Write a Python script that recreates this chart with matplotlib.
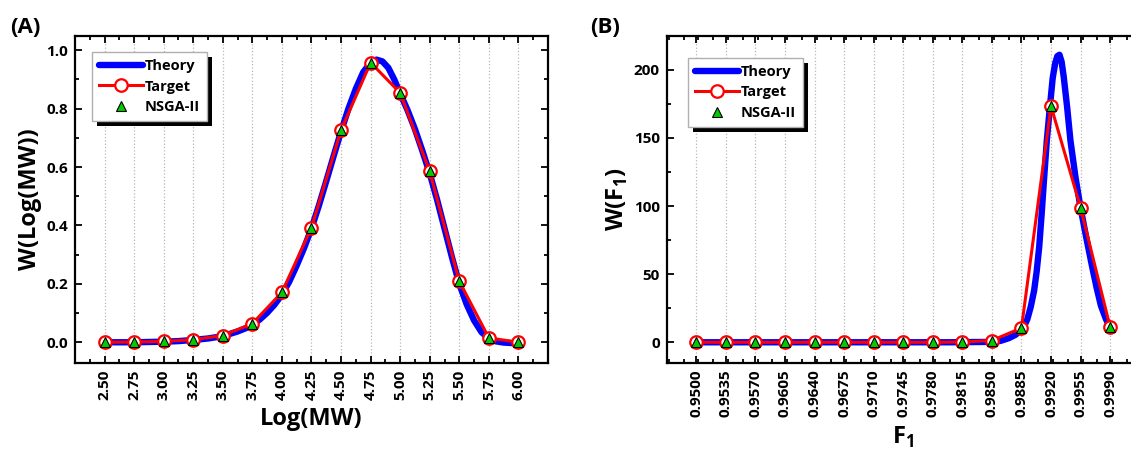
import matplotlib
matplotlib.use("Agg")
import matplotlib.pyplot as plt
from matplotlib.patches import Rectangle
from matplotlib.ticker import MultipleLocator, FormatStrFormatter

plt.rcParams['font.family'] = ['Open Sans', 'DejaVu Sans']
plt.rcParams['font.weight'] = 'bold'

# ---- panel A data: Log(MW) ----
a_x = [2.50, 2.75, 3.00, 3.25, 3.50, 3.75, 4.00, 4.25, 4.50, 4.75, 5.00, 5.25, 5.50, 5.75, 6.00]
a_target = [0.000, 0.001, 0.003, 0.009, 0.023, 0.064, 0.171, 0.393, 0.726, 0.958, 0.854, 0.585, 0.209, 0.015, 0.000]
a_nsga = [0.000, 0.001, 0.003, 0.009, 0.023, 0.064, 0.171, 0.393, 0.726, 0.958, 0.854, 0.585, 0.209, 0.015, 0.000]
a_theory_x = [2.50, 2.625, 2.75, 2.875, 3.00, 3.125, 3.25, 3.375, 3.50, 3.625, 3.6875, 3.75,
              3.8125, 3.875, 3.9375, 4.00, 4.0625, 4.125, 4.1875, 4.25, 4.3125, 4.375, 4.4375,
              4.50, 4.5625, 4.625, 4.6875, 4.75, 4.80, 4.85, 4.90, 4.95, 5.00, 5.0625, 5.125,
              5.1875, 5.25, 5.3125, 5.375, 5.4375, 5.50, 5.5625, 5.625, 5.6875, 5.75, 5.8125,
              5.875, 6.00]
a_theory_y = [0.000, 0.000, 0.000, 0.001, 0.002, 0.004, 0.008, 0.013, 0.021, 0.037, 0.047, 0.060,
              0.078, 0.101, 0.129, 0.163, 0.208, 0.263, 0.323, 0.390, 0.468, 0.552, 0.638,
              0.722, 0.800, 0.868, 0.925, 0.958, 0.968, 0.962, 0.940, 0.900, 0.852, 0.795, 0.730,
              0.656, 0.578, 0.488, 0.390, 0.292, 0.200, 0.130, 0.075, 0.035, 0.012, 0.003,
              -0.001, -0.004]

# ---- panel B data: F1 ----
b_x = [0.9500, 0.9535, 0.9570, 0.9605, 0.9640, 0.9675, 0.9710, 0.9745,
       0.9780, 0.9815, 0.9850, 0.9885, 0.9920, 0.9955, 0.9990]
b_target = [0, 0, 0, 0, 0, 0, 0, 0, 0, 0.2, 1.3, 10.5, 173.3, 98.8, 11.0]
b_nsga = [0, 0, 0, 0, 0, 0, 0, 0, 0, 0.2, 1.3, 10.5, 173.3, 98.8, 11.0]
b_theory_x = [0.9500, 0.9600, 0.9700, 0.9800, 0.9850, 0.9860, 0.9870, 0.9878, 0.9884,
              0.9888, 0.9892, 0.9896, 0.9900, 0.9903, 0.9906, 0.9909, 0.9912, 0.9915,
              0.9919, 0.9922, 0.9925, 0.99275, 0.9930, 0.99325, 0.9935, 0.9939, 0.9943,
              0.9949, 0.9955, 0.9962, 0.99685, 0.9974, 0.9979, 0.9985, 0.9990]
b_theory_y = [0, 0, 0, 0, 0.3, 1.0, 3.0, 5.5, 8.5,
              11.5, 17, 26, 38, 52, 70, 95, 122, 148,
              175, 194, 205, 210, 211, 206, 195, 173, 148,
              121, 98.5, 76, 56, 40, 27, 17, 11]

a_xticks = [2.50, 2.75, 3.00, 3.25, 3.50, 3.75, 4.00, 4.25, 4.50, 4.75, 5.00, 5.25, 5.50, 5.75, 6.00]
b_xticks = b_x

fig = plt.figure(figsize=(11.31, 4.53), dpi=100)
axA = fig.add_axes([0.0663, 0.1993, 0.4182, 0.7219])
axB = fig.add_axes([0.5895, 0.1993, 0.4182, 0.7219])


def draw(ax, tx, ty, x, target, nsga):
    ax.plot(tx, ty, color='#0000ff', lw=4.6, solid_capstyle='round',
            solid_joinstyle='round', zorder=2, label='Theory')
    ax.plot(x, target, color='#ff0000', lw=2.2, marker='o', ms=9, mfc='white',
            mec='#ff0000', mew=1.6, zorder=3, label='Target')
    ax.plot(x, nsga, ls='none', marker='^', ms=7, mfc='#00cc00', mec='black',
            mew=0.8, zorder=4, label='NSGA-II')


def style(ax, xticks, xfmt):
    ax.set_xticks(xticks)
    ax.set_xticklabels([xfmt % v for v in xticks], rotation=90)
    ax.grid(axis='x', ls=':', color='#b8b8b8', lw=0.9)
    ax.set_axisbelow(True)
    for s in ax.spines.values():
        s.set_linewidth(1.6)
    ax.tick_params(which='both', direction='in', top=True, right=True, width=1.3,
                   labelsize=11, pad=5)
    ax.tick_params(which='major', length=5)
    ax.tick_params(which='minor', length=3)


def legend(ax, anchor):
    leg = ax.legend(loc='upper left', bbox_to_anchor=anchor, borderaxespad=0,
                    fancybox=False, framealpha=1, edgecolor='#b0b0b0',
                    handlelength=3.0, handletextpad=0.1, labelspacing=0.45,
                    borderpad=0.5, numpoints=1, prop={'size': 10.5, 'weight': 'bold'})
    leg.get_frame().set_linewidth(1.0)
    fig.canvas.draw()
    bb = leg.get_window_extent()
    inv = ax.transAxes.inverted()
    (x0, y0), (x1, y1) = inv.transform([(bb.x0 + 5, bb.y0 - 5), (bb.x1 + 5, bb.y1 - 5)])
    ax.add_patch(Rectangle((x0, y0), x1 - x0, y1 - y0, transform=ax.transAxes,
                           facecolor='black', edgecolor='none', zorder=4.9, clip_on=False))


draw(axA, a_theory_x, a_theory_y, a_x, a_target, a_nsga)
style(axA, a_xticks, '%.2f')
axA.set_xlim(2.25, 6.25)
axA.set_ylim(-0.07, 1.05)
axA.xaxis.set_minor_locator(MultipleLocator(0.125))
axA.yaxis.set_major_locator(MultipleLocator(0.2))
axA.yaxis.set_minor_locator(MultipleLocator(0.1))
axA.yaxis.set_major_formatter(FormatStrFormatter('%.1f'))
axA.set_xlabel('Log(MW)', fontsize=17, fontweight='bold', labelpad=5)
axA.set_ylabel('W(Log(MW))', fontsize=17, fontweight='bold', labelpad=3)

draw(axB, b_theory_x, b_theory_y, b_x, b_target, b_nsga)
style(axB, b_xticks, '%.4f')
axB.set_xlim(0.9465, 1.0025)
axB.set_ylim(-15, 225)
axB.xaxis.set_minor_locator(MultipleLocator(0.00175))
axB.yaxis.set_major_locator(MultipleLocator(50))
axB.yaxis.set_minor_locator(MultipleLocator(25))
axB.set_xlabel(r'F$_\mathregular{1}$', fontsize=17, fontweight='bold', labelpad=5)
axB.set_ylabel(r'W(F$_\mathregular{1}$)', fontsize=17, fontweight='bold', labelpad=3)

fig.text(0.022, 0.94, '(A)', fontsize=16, fontweight='bold', ha='center', va='center')
fig.text(0.535, 0.94, '(B)', fontsize=16, fontweight='bold', ha='center', va='center')

legend(axA, (0.036, 0.951))
legend(axB, (0.0445, 0.933))

fig.savefig('out.png', dpi=100)
